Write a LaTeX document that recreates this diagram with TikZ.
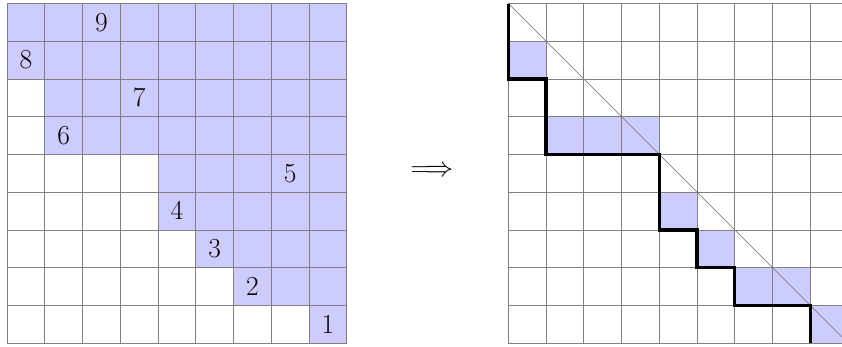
\documentclass[tikz,border=0pt]{standalone}
\usepackage{tikz}
\tikzset{%
  cell/.style     = {fill=blue!20},%
  gridline/.style = {draw=gray, line width=0.6pt},%
  diag/.style     = {draw=gray, line width=0.5pt},%
  stair/.style    = {draw=black, line width=2.4pt, line join=miter},%
  numlabel/.style = {inner sep=0pt, font=\fontsize{21}{25}\selectfont}%
}
\begin{document}
\begin{tikzpicture}
	\useasboundingbox (-0.185,-0.08) rectangle (22.12,9.093);
	% left board: shaded rows, row r starts at column s
	\begin{scope}
		\foreach \r/\s in {0/0,1/0,2/1,3/1,4/4,5/4,6/5,7/6,8/8}
			\fill [cell] (\s,8-\r) rectangle (9,9-\r);
		\draw [gridline] (0,0) grid (9,9);
		\foreach \c/\r/\n in {2/0/9,0/1/8,3/2/7,1/3/6,7/4/5,4/5/4,5/6/3,6/7/2,8/8/1}
			\node [numlabel] (n\n) at (\c+0.5,8.5-\r) {$\n$};
	\end{scope}
	\node [numlabel] (implies) at (11.26,4.55) {$\Longrightarrow$};
	% right board: staircase under the diagonal
	\begin{scope}[xshift=13.28cm]
		\foreach \c/\r in {0/1,1/3,2/3,3/3,4/5,5/6,6/7,7/7,8/8}
			\fill [cell] (\c,8-\r) rectangle (\c+1,9-\r);
		\draw [gridline] (0,0) grid (9,9);
		\draw [diag] (0,9) -- (9,0);
		\draw [stair] (0,9) -- (0,7) -- (1,7) -- (1,5) -- (4,5) -- (4,3)
			-- (5,3) -- (5,2) -- (6,2) -- (6,1) -- (8,1) -- (8,0);
	\end{scope}
\end{tikzpicture}
\end{document}
